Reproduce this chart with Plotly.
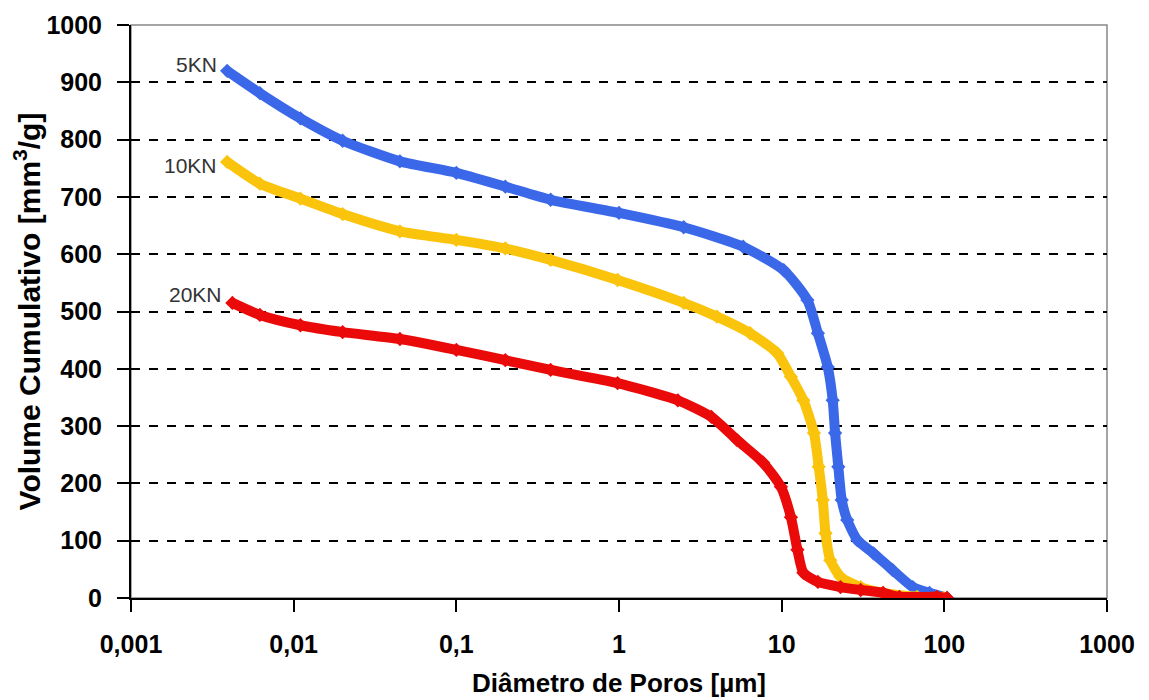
import math
import plotly.graph_objects as go

# pore diameter [um] and cumulative volume [mm3/g]
x_5kn = [0.0039, 0.0062, 0.011, 0.02, 0.045, 0.1, 0.2, 0.38, 1.0, 2.5, 5.8, 10.3,
         14.4, 16.7, 19.2, 20.6, 21.3, 22.3, 23.4, 25.3, 29.2, 36.7, 48, 64, 81, 104]
y_5kn = [920, 881, 837, 798, 762, 742, 718, 695, 672, 647, 613, 572,
         520, 462, 403, 345, 288, 229, 171, 136, 101, 78, 49, 19, 9, 0]

x_10kn = [0.0039, 0.0062, 0.011, 0.02, 0.045, 0.1, 0.2, 0.38, 0.98, 2.5, 4.0, 6.4,
          9.4, 11.4, 13.6, 15.8, 16.9, 17.9, 18.6, 19.9, 23.0, 30.6, 42, 68, 99]
y_10kn = [761, 723, 697, 670, 640, 625, 610, 590, 555, 515, 491, 462,
          427, 386, 345, 288, 229, 171, 113, 66, 37, 19, 9, 2, 0]

x_20kn = [0.0042, 0.0062, 0.011, 0.02, 0.045, 0.1, 0.2, 0.38, 0.98, 2.3, 3.7, 5.3,
          7.7, 9.9, 11.4, 12.5, 13.6, 16.7, 23, 30.6, 42, 53, 90, 104]
y_20kn = [515, 494, 476, 464, 452, 433, 415, 398, 375, 345, 316, 276,
          236, 194, 141, 84, 44, 28, 19, 14, 9, 2, 2, 0]

x_ticks = [0.001, 0.01, 0.1, 1, 10, 100, 1000]
x_labels = ["0,001", "0,01", "0,1", "1", "10", "100", "1000"]
y_ticks = list(range(0, 1001, 100))

series = [
    ("5KN", x_5kn, y_5kn, "#3a68e8", 6),
    ("10KN", x_10kn, y_10kn, "#fbc40c", -4),
    ("20KN", x_20kn, y_20kn, "#ea0a0a", 8),
]

font = "Arial, Liberation Sans, sans-serif"

fig = go.Figure()
for name, xs, ys, col, dy in series:
    fig.add_trace(
        go.Scatter(
            x=xs,
            y=ys,
            name=name,
            mode="lines+markers",
            line=dict(color=col, width=10, shape="spline", smoothing=0.6),
            marker=dict(symbol="diamond", size=11, color=col),
        )
    )
    # label just left of the first point (log axis -> log10 position)
    fig.add_annotation(
        x=math.log10(xs[0]),
        y=ys[0],
        xref="x",
        yref="y",
        text=name,
        showarrow=False,
        xanchor="right",
        yanchor="middle",
        xshift=-8,
        yshift=dy,
        font=dict(family=font, size=21, color="#333333"),
    )

# plot area border (thin grey top/right)
fig.add_shape(
    type="rect", xref="paper", yref="paper", x0=0, y0=0, x1=1, y1=1,
    line=dict(color="#888888", width=1.5), layer="between",
)

fig.update_layout(
    width=1141,
    height=692,
    margin=dict(l=123, r=42, t=17, b=102, autoexpand=False),
    paper_bgcolor="white",
    plot_bgcolor="white",
    showlegend=False,
    font=dict(family=font, color="black"),
)
fig.update_xaxes(
    type="log",
    range=[-3, 3],
    tickvals=x_ticks,
    ticktext=x_labels,
    showgrid=False,
    zeroline=False,
    showline=True,
    linecolor="black",
    linewidth=2,
    ticks="outside",
    ticklen=12,
    tickwidth=2,
    tickcolor="black",
    ticklabelstandoff=11,
    tickfont=dict(family=font, size=25, weight="bold"),
    title=dict(text="Diâmetro de Poros [µm]",
               font=dict(family=font, size=26, weight="bold"), standoff=17),
)
fig.update_yaxes(
    range=[0, 1000],
    tickvals=y_ticks,
    showgrid=True,
    gridcolor="black",
    gridwidth=1.5,
    griddash="dash",
    zeroline=False,
    showline=True,
    linecolor="black",
    linewidth=2,
    ticks="outside",
    ticklen=12,
    tickwidth=2,
    tickcolor="black",
    ticklabelstandoff=10,
    tickfont=dict(family=font, size=25, weight="bold"),
    title=dict(text="Volume Cumulativo [mm<sup>3</sup>/g]",
               font=dict(family=font, size=30, weight="bold"), standoff=2),
)

fig.write_html("out.html")
